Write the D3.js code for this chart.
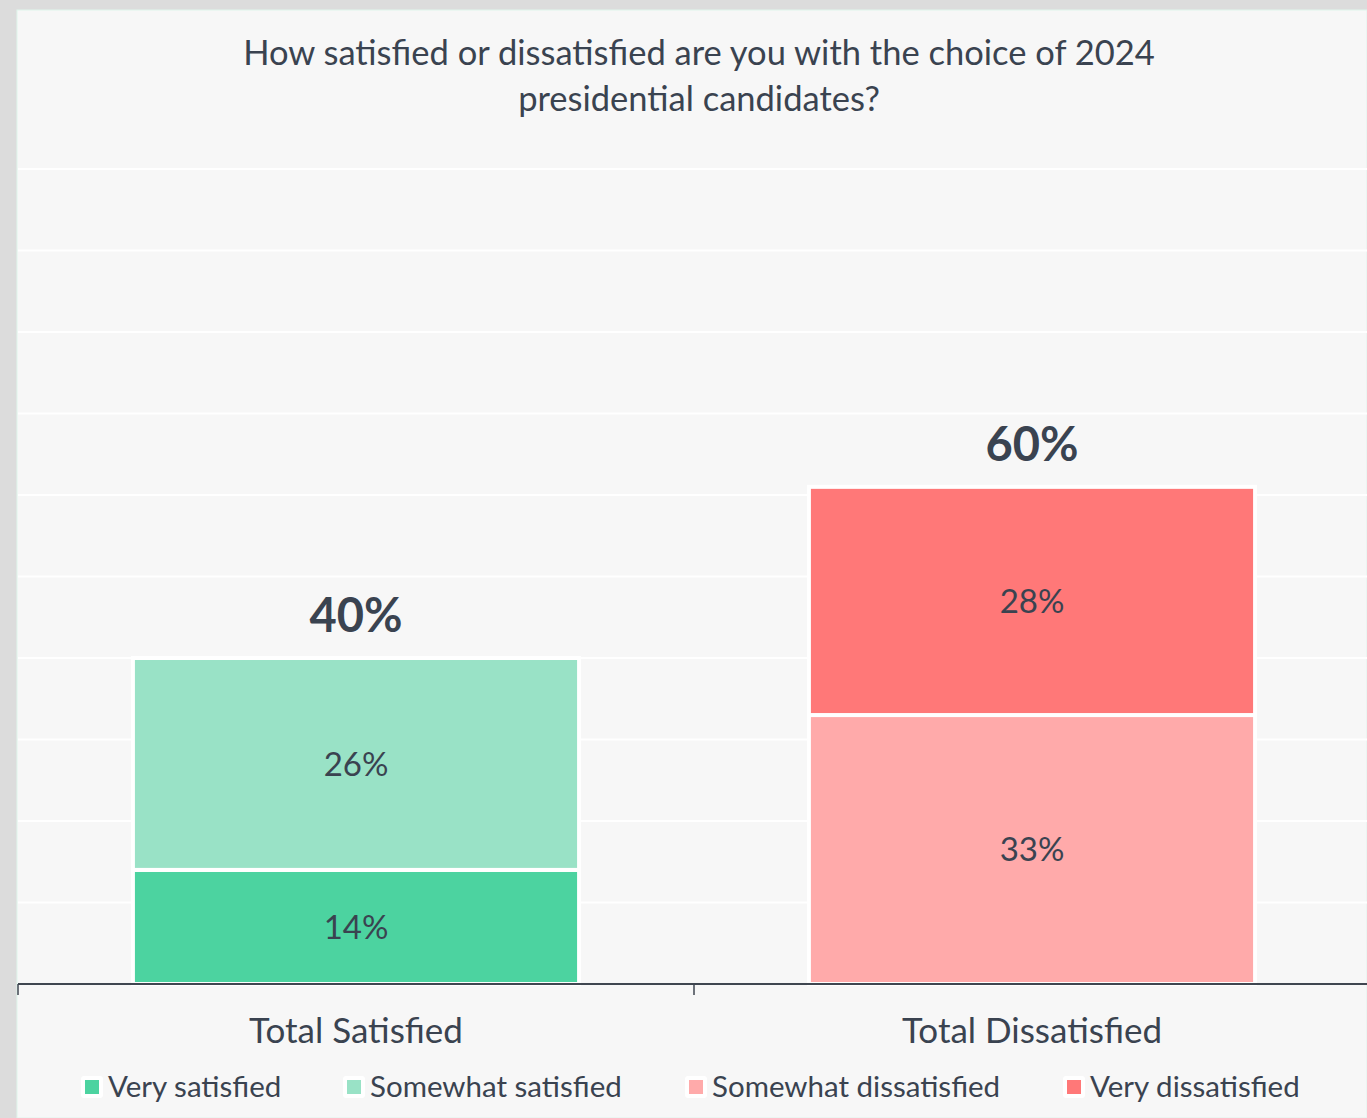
<!DOCTYPE html>
<html>
<head>
<meta charset="utf-8">
<script src="https://cdn.jsdelivr.net/npm/d3@7"></script>
<style>
  body { margin: 0; background: #dcdcdc; }
  .chart { width: 1367px; height: 1118px; }
</style>
</head>
<body>
<div class="chart"></div>
<script>
// data
var categories = ["Total Satisfied", "Total Dissatisfied"]
var series = ["Very satisfied", "Somewhat satisfied", "Somewhat dissatisfied", "Very dissatisfied"]
var verySatisfied = [14, 0]
var somewhatSatisfied = [26, 0]
var somewhatDissatisfied = [0, 33]
var veryDissatisfied = [0, 28]
var totals = ["40%", "60%"]
var yTicks = [0, 10, 20, 30, 40, 50, 60, 70, 80, 90, 100]
var title = ["How satisfied or dissatisfied are you with the choice of 2024", "presidential candidates?"]

var colours = ["#4cd3a0", "#99e2c6", "#ffaaaa", "#ff7878"]
var textColour = "#3a4350"
var font = "Lato, 'Open Sans', sans-serif"

var width = 1367, height = 1118
var margin = ({top: 169, right: -3, bottom: 134, left: 18})

var svg = d3.select(".chart").append("svg")
  .attr("width", width)
  .attr("height", height)

// panel
svg.append("rect")
  .attr("x", 17).attr("y", 10)
  .attr("width", width - 17).attr("height", height - 10)
  .attr("fill", "#f7f7f7")
  .attr("stroke", "#dff5ec").attr("stroke-width", 1)

var g = svg.append("g")
  .attr("transform", `translate(${margin.left},${margin.top})`)

var innerW = width - margin.left - margin.right
var innerH = height - margin.top - margin.bottom

const x = d3.scaleBand()
  .domain(categories)
  .range([0, innerW])
  .paddingInner(0.34)
  .paddingOuter(0.17)

const y = d3.scaleLinear()
  .domain([0, 100])
  .range([innerH, 0])

// gridlines
g.append("g")
  .selectAll("line")
  .data(yTicks.slice(1))
  .join("line")
    .attr("x1", 0).attr("x2", innerW)
    .attr("y1", d => y(d)).attr("y2", d => y(d))
    .attr("stroke", "#ffffff")
    .attr("stroke-width", 2)

// stack
var rows = categories.map((c, i) => ({
  cat: c,
  "Very satisfied": verySatisfied[i],
  "Somewhat satisfied": somewhatSatisfied[i],
  "Somewhat dissatisfied": somewhatDissatisfied[i],
  "Very dissatisfied": veryDissatisfied[i]
}))
var stacked = d3.stack().keys(series)(rows)
var colour = d3.scaleOrdinal().domain(series).range(colours)

var layers = g.selectAll("g.layer")
  .data(stacked)
  .join("g")
    .attr("class", "layer")
    .attr("fill", d => colour(d.key))

layers.selectAll("rect")
  .data(d => d.filter(s => s[1] - s[0] > 0))
  .join("rect")
    .attr("x", d => x(d.data.cat))
    .attr("y", d => y(d[1]))
    .attr("width", x.bandwidth())
    .attr("height", d => y(d[0]) - y(d[1]))
    .attr("stroke", "#ffffff")
    .attr("stroke-width", 4)

layers.selectAll("text")
  .data(d => d.filter(s => s[1] - s[0] > 0))
  .join("text")
    .attr("x", d => x(d.data.cat) + x.bandwidth() / 2)
    .attr("y", d => (y(d[0]) + y(d[1])) / 2)
    .attr("dy", "0.35em")
    .attr("text-anchor", "middle")
    .attr("fill", textColour)
    .attr("font-family", font)
    .attr("font-size", 33)
    .text(d => (d[1] - d[0]) + "%")

// totals above bars
var tops = stacked[stacked.length - 1]
g.selectAll("text.total")
  .data(categories)
  .join("text")
    .attr("class", "total")
    .attr("x", d => x(d) + x.bandwidth() / 2)
    .attr("y", (d, i) => y(tops[i][1]) - 26)
    .attr("text-anchor", "middle")
    .attr("fill", textColour)
    .attr("font-family", font)
    .attr("font-weight", "bold")
    .attr("font-size", 47)
    .text((d, i) => totals[i])

// x axis
var xAxis = g.append("g")
  .attr("transform", `translate(0,${innerH})`)
xAxis.append("line")
  .attr("x1", 0).attr("x2", innerW + 10)
  .attr("stroke", "#3f4650").attr("stroke-width", 2)
xAxis.selectAll("line.tick")
  .data([0, innerW / 2])
  .join("line")
    .attr("class", "tick")
    .attr("x1", d => d).attr("x2", d => d)
    .attr("y1", 0).attr("y2", 11)
    .attr("stroke", "#3f4650").attr("stroke-width", 1.5)
xAxis.selectAll("text")
  .data(categories)
  .join("text")
    .attr("x", d => x(d) + x.bandwidth() / 2)
    .attr("y", 59)
    .attr("text-anchor", "middle")
    .attr("fill", textColour)
    .attr("font-family", font)
    .attr("font-size", 35)
    .text(d => d)

// title
svg.append("text")
  .attr("text-anchor", "middle")
  .attr("fill", textColour)
  .attr("font-family", font)
  .attr("font-size", 34.5)
  .selectAll("tspan")
  .data(title)
  .join("tspan")
    .attr("x", 699)
    .attr("y", (d, i) => 65 + i * 46)
    .text(d => d)

// legend
var legendX = [84, 346, 688, 1066]
var legend = svg.selectAll("g.legend")
  .data(series)
  .join("g")
    .attr("class", "legend")
    .attr("transform", (d, i) => `translate(${legendX[i]},1087)`)
legend.append("rect")
  .attr("x", -3).attr("y", -11).attr("width", 22).attr("height", 22)
  .attr("rx", 3).attr("fill", "#ffffff")
legend.append("rect")
  .attr("x", 1).attr("y", -7).attr("width", 14).attr("height", 14)
  .attr("fill", d => colour(d))
legend.append("text")
  .attr("x", 24)
  .attr("dy", "0.35em")
  .attr("fill", textColour)
  .attr("font-family", font)
  .attr("font-size", 29.5)
  .text(d => d)
</script>
</body>
</html>
